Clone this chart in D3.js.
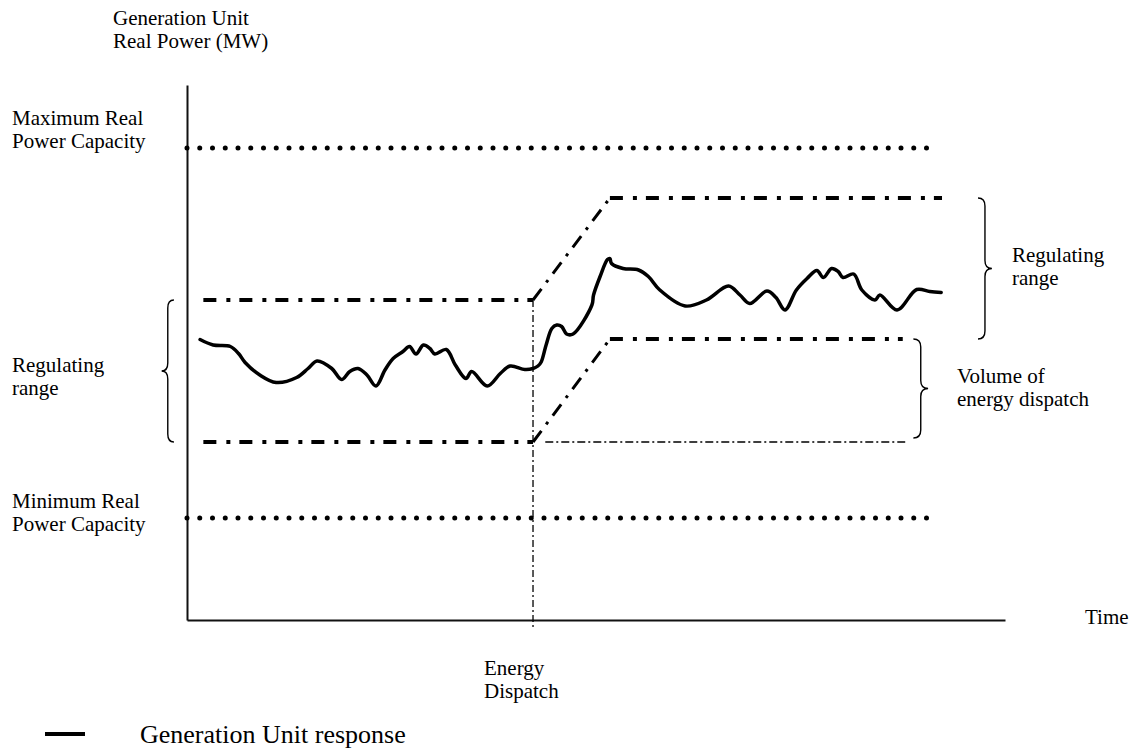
<!DOCTYPE html>
<html>
<head>
<meta charset="utf-8">
<script src="https://cdn.jsdelivr.net/npm/d3@7"></script>
<style>
  body { margin: 0; background: #fff; }
  text { font-family: "Liberation Serif", "Times New Roman", serif; fill: #000; }
</style>
</head>
<body>
<script>
// chart values (time in arbitrary units, power in MW-like units)
var capacityMax = 94.4;
var capacityMin = 20.4;
var dispatchTime = 42.3;

var upperTimes = [2, 42.3, 51.7, 92.3];
var upperValues = [64, 64, 84.4, 84.4];
var lowerTimes = [2, 42.3, 51.7, 87.5];
var lowerValues = [35.6, 35.6, 56.2, 56.2];
var volumeTimes = [43.8, 87.8];
var volumeValues = [35.6, 35.6];

var responseTime = [1.6, 3.2, 5.3, 6.3, 7.1, 8.9, 10.9, 13.4, 14.8, 15.9, 17.7, 18.9, 19.9, 20.9, 22.0,
  23.1, 24.2, 25.2, 26.4, 27.2, 28.0, 28.9, 29.7, 30.3, 31.7, 32.8, 34.1, 34.8, 36.7, 38.3, 39.5, 41.3, 42.3,
  42.9, 43.3, 43.9, 44.6, 45.2, 45.8, 46.4, 47.2, 49.5, 49.7, 50.5, 51.4, 51.7, 51.9, 53.3, 55.2, 56.4, 57.8,
  60.9, 63.5, 66.2, 67.6, 68.8, 70.9, 72.0, 73.1, 74.5, 75.8, 77.0, 77.8, 78.8, 79.6, 80.2, 81.5, 82.5, 84.1,
  84.7, 86.8, 89.2, 90.8, 92.2];
var responseMW = [56.1, 55.0, 54.7, 53.3, 51.5, 49.0, 47.5, 48.5, 50.3, 51.8, 50.3, 48.1, 49.7, 50.3, 49.0,
  46.8, 50.0, 52.3, 53.7, 54.7, 53.2, 55.0, 54.3, 53.2, 54.1, 51.0, 48.3, 49.7, 46.8, 49.3, 50.8, 50.1, 50.3,
  50.8, 51.6, 55.0, 58.3, 59.0, 58.7, 57.2, 57.2, 63.0, 65.0, 68.7, 72.1, 72.3, 71.3, 70.3, 70.0, 68.7, 66.0,
  62.8, 64.0, 66.8, 65.0, 63.3, 65.8, 64.5, 62.0, 66.0, 68.3, 69.9, 68.5, 70.3, 69.7, 68.5, 69.2, 66.0, 64.0,
  65.0, 62.0, 66.1, 65.7, 65.5];

var width = 1132, height = 750;

var x = d3.scaleLinear().domain([0, 100]).range([187, 1005]);
var y = d3.scaleLinear().domain([0, 107]).range([620, 85]);

var svg = d3.select('body').append('svg')
  .attr('width', width)
  .attr('height', height);

// axes (no ticks, only the lines)
svg.append('g')
  .attr('transform', 'translate(0,' + y(0) + ')')
  .call(d3.axisBottom(x).ticks(0).tickSizeOuter(0))
  .select('.domain').attr('stroke', '#111').attr('stroke-width', 2);
svg.append('g')
  .attr('transform', 'translate(' + x(0) + ',0)')
  .call(d3.axisLeft(y).ticks(0).tickSizeOuter(0))
  .select('.domain').attr('stroke', '#111').attr('stroke-width', 2);

var line = d3.line().x(function(d) { return x(d[0]); }).y(function(d) { return y(d[1]); });

// capacity limits, dotted
[capacityMax, capacityMin].forEach(function(v) {
  svg.append('path')
    .attr('d', line([[0, v], [90.8, v]]))
    .attr('stroke', '#000').attr('stroke-width', 5)
    .attr('stroke-linecap', 'round')
    .attr('stroke-dasharray', '0 12.75')
    .attr('fill', 'none');
});

// regulating band edges: thick horizontals, thinner ramps
function drawBand(times, values) {
  var pts = times.map(function(t, i) { return [t, values[i]]; });
  svg.append('path').attr('d', line(pts.slice(0, 2)))
    .attr('stroke', '#000').attr('stroke-width', 4).attr('fill', 'none')
    .attr('stroke-dasharray', '13,10,4,9');
  svg.append('path').attr('d', line(pts.slice(1, 3)))
    .attr('stroke', '#000').attr('stroke-width', 3).attr('fill', 'none')
    .attr('stroke-dasharray', '14,8,3,8');
  svg.append('path').attr('d', line(pts.slice(2, 4)))
    .attr('stroke', '#000').attr('stroke-width', 4).attr('fill', 'none')
    .attr('stroke-dasharray', '13,10,4,9');
}
drawBand(upperTimes, upperValues);
drawBand(lowerTimes, lowerValues);

// volume of energy dispatch baseline
svg.append('path')
  .attr('d', line(volumeTimes.map(function(t, i) { return [t, volumeValues[i]]; })))
  .attr('stroke', '#000').attr('stroke-width', 1.3).attr('fill', 'none')
  .attr('stroke-dasharray', '8,3,2,3');

// dispatch instant
svg.append('path')
  .attr('d', line([[dispatchTime, upperValues[1]], [dispatchTime, -1.9]]))
  .attr('stroke', '#000').attr('stroke-width', 1.3).attr('fill', 'none')
  .attr('stroke-dasharray', '7,3,2,3');

// unit response
svg.append('path')
  .datum(responseTime.map(function(t, i) { return [t, responseMW[i]]; }))
  .attr('d', line.curve(d3.curveCatmullRom.alpha(0.5)))
  .attr('stroke', '#000').attr('stroke-width', 3.5)
  .attr('stroke-linejoin', 'round').attr('stroke-linecap', 'round')
  .attr('fill', 'none');

// curly braces
function brace(edge, tip, top, bottom) {
  var x0 = x(edge), x2 = x(tip), x1 = (x0 + x2) / 2;
  var y1 = y(top), y2 = y(bottom), ym = (y1 + y2) / 2, r = 8;
  var p = d3.path();
  p.moveTo(x0, y1);
  p.quadraticCurveTo(x1, y1, x1, y1 + r);
  p.lineTo(x1, ym - r);
  p.quadraticCurveTo(x1, ym, x2, ym);
  p.quadraticCurveTo(x1, ym, x1, ym + r);
  p.lineTo(x1, y2 - r);
  p.quadraticCurveTo(x1, y2, x0, y2);
  svg.append('path').attr('d', p.toString())
    .attr('stroke', '#000').attr('stroke-width', 1.4).attr('fill', 'none');
}
brace(-1.6, -3.1, 64, 35.6);
brace(96.7, 98.4, 84.4, 56.2);
brace(88.8, 90.6, 56.2, 36.4);

// labels
function label(px, py, lines, size) {
  var t = svg.append('text').attr('x', px).attr('y', py).style('font-size', (size || 21) + 'px');
  lines.forEach(function(s, i) {
    t.append('tspan').attr('x', px).attr('dy', i === 0 ? 0 : 23).text(s);
  });
}
label(113, 25, ['Generation Unit', 'Real Power (MW)']);
label(12, 125, ['Maximum Real', 'Power Capacity']);
label(12, 372, ['Regulating', 'range']);
label(12, 508, ['Minimum Real', 'Power Capacity']);
label(1012, 262, ['Regulating', 'range']);
label(957, 383, ['Volume of', 'energy dispatch']);
label(484, 675, ['Energy', 'Dispatch']);
label(1085, 624, ['Time']);

// legend
svg.append('line')
  .attr('x1', 45).attr('x2', 85).attr('y1', 734).attr('y2', 734)
  .attr('stroke', '#000').attr('stroke-width', 4);
label(140, 743, ['Generation Unit response'], 26);
</script>
</body>
</html>
